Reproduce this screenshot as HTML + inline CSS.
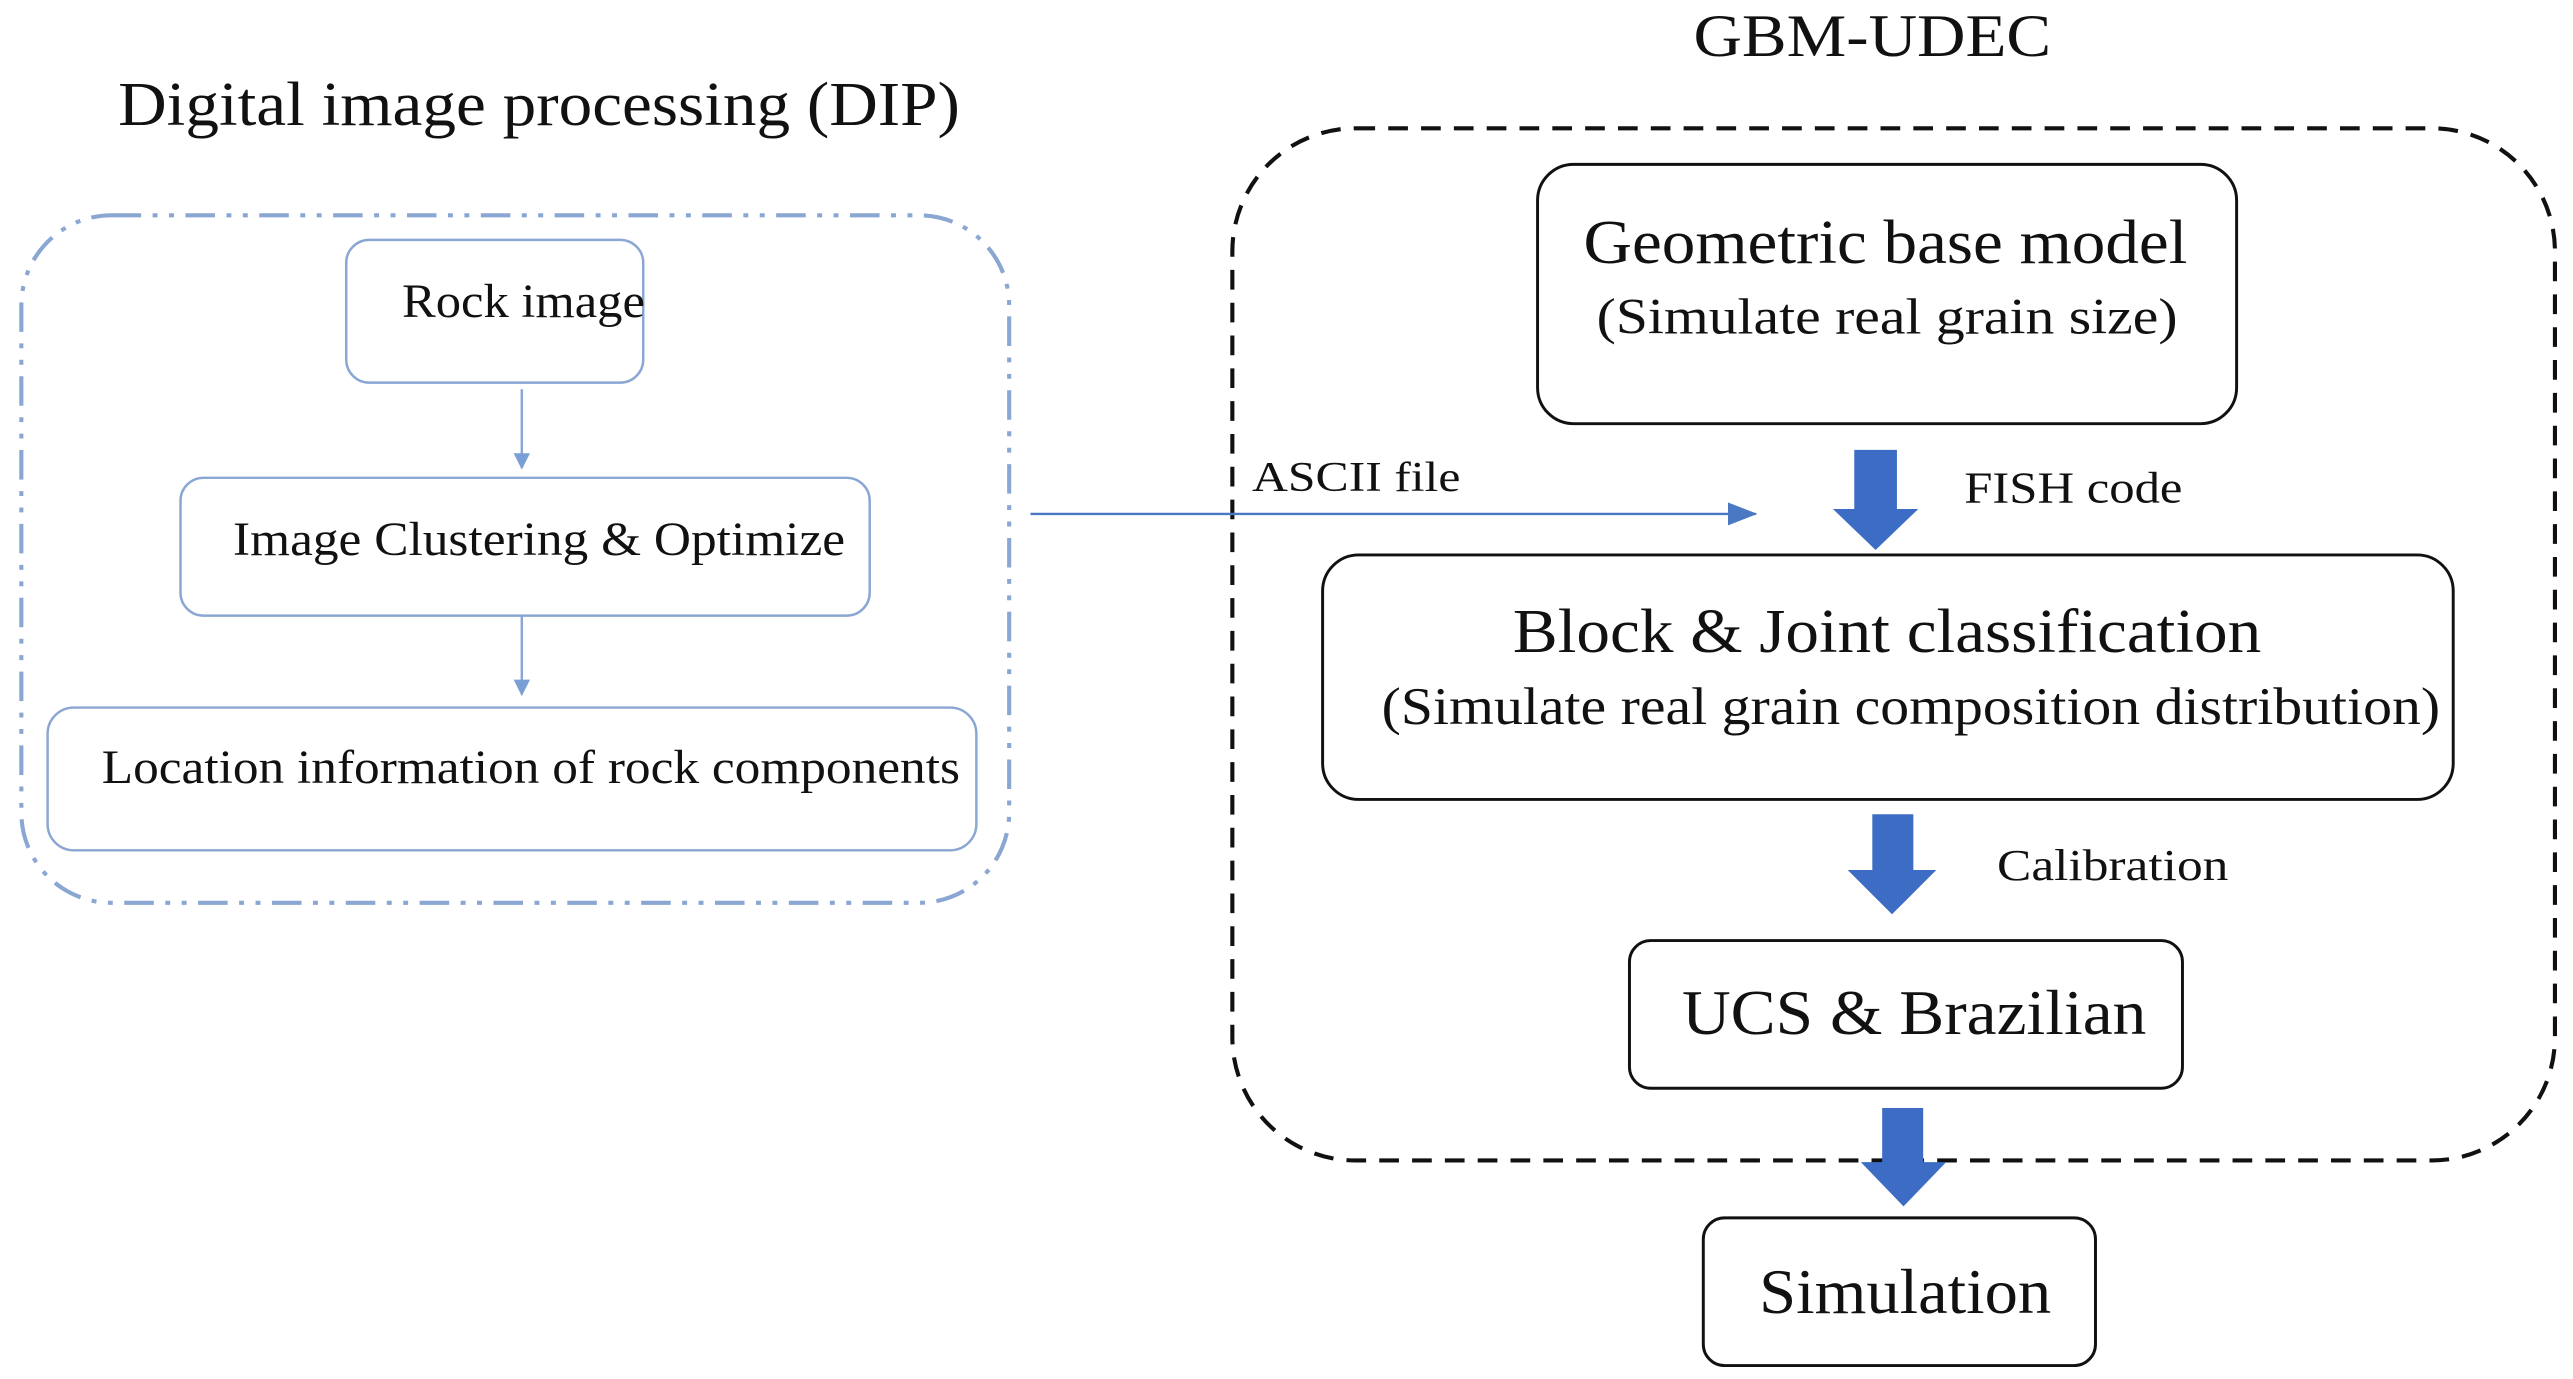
<!DOCTYPE html>
<html><head><meta charset="utf-8"><style>
html,body{margin:0;padding:0;background:#fff}
svg{display:block}
text{font-family:"Liberation Serif",serif;fill:#111}
</style></head><body>
<svg width="2573" height="1379" viewBox="0 0 1568 840" xmlns="http://www.w3.org/2000/svg">
<defs>
<marker id="ah" markerWidth="10" markerHeight="10" refX="9" refY="5" orient="auto" markerUnits="userSpaceOnUse"><path d="M0,0 L10,5 L0,10 Z" fill="#7a9fd6"/></marker>
<marker id="ah2" markerWidth="18" markerHeight="14" refX="17" refY="7" orient="auto" markerUnits="userSpaceOnUse"><path d="M0,0 L18,7 L0,14 Z" fill="#4a78c2"/></marker>
</defs>
<!-- DIP -->
<text x="72" y="76" font-size="38" textLength="513" lengthAdjust="spacingAndGlyphs">Digital image processing (DIP)</text>
<rect x="13" y="131" width="602" height="419" rx="55" fill="none" stroke="#8aa6d2" stroke-width="2.5" stroke-dasharray="18,7,3,7,3,7"/>
<rect x="211" y="146" width="181" height="87" rx="14" fill="#fff" stroke="#8aa6d2" stroke-width="1.5"/>
<text x="245" y="193" font-size="29" textLength="148" lengthAdjust="spacingAndGlyphs">Rock image</text>
<line x1="318" y1="237" x2="318" y2="285" stroke="#8aa6d2" stroke-width="1.5" marker-end="url(#ah)"/>
<rect x="110" y="291" width="420" height="84" rx="14" fill="#fff" stroke="#8aa6d2" stroke-width="1.5"/>
<text x="142" y="338" font-size="29" textLength="373" lengthAdjust="spacingAndGlyphs">Image Clustering &amp; Optimize</text>
<line x1="318" y1="375" x2="318" y2="423" stroke="#8aa6d2" stroke-width="1.5" marker-end="url(#ah)"/>
<rect x="29" y="431" width="566" height="87" rx="16" fill="#fff" stroke="#8aa6d2" stroke-width="1.5"/>
<text x="62" y="477" font-size="29" textLength="523" lengthAdjust="spacingAndGlyphs">Location information of rock components</text>
<!-- GBM-UDEC -->
<text x="1032" y="34" font-size="37" textLength="218" lengthAdjust="spacingAndGlyphs">GBM-UDEC</text>
<rect x="751" y="78" width="806" height="629" rx="75" fill="none" stroke="#111" stroke-width="2.5" stroke-dasharray="12,8"/>
<rect x="937" y="100" width="426" height="158" rx="22" fill="#fff" stroke="#111" stroke-width="1.8"/>
<text x="965" y="160" font-size="38" textLength="368" lengthAdjust="spacingAndGlyphs">Geometric base model</text>
<text x="973" y="203" font-size="31" textLength="354" lengthAdjust="spacingAndGlyphs">(Simulate real grain size)</text>
<line x1="628" y1="313" x2="1070" y2="313" stroke="#4a78c2" stroke-width="1.5" marker-end="url(#ah2)"/>
<text x="763" y="299" font-size="26" textLength="127" lengthAdjust="spacingAndGlyphs">ASCII file</text>
<path d="M1130,274 L1156,274 L1156,310 L1169,310 L1143,335 L1117,310 L1130,310 Z" fill="#3d6cc4"/>
<text x="1197" y="306" font-size="27" textLength="133" lengthAdjust="spacingAndGlyphs">FISH code</text>
<rect x="806" y="338" width="689" height="149" rx="22" fill="#fff" stroke="#111" stroke-width="1.8"/>
<text x="922" y="397" font-size="38" textLength="456" lengthAdjust="spacingAndGlyphs">Block &amp; Joint classification</text>
<text x="842" y="441" font-size="32" textLength="645" lengthAdjust="spacingAndGlyphs">(Simulate real grain composition distribution)</text>
<path d="M1141,496 L1166,496 L1166,530 L1180,530 L1153,557 L1126,530 L1141,530 Z" fill="#3d6cc4"/>
<text x="1217" y="536" font-size="27" textLength="141" lengthAdjust="spacingAndGlyphs">Calibration</text>
<rect x="993" y="573" width="337" height="90" rx="13" fill="#fff" stroke="#111" stroke-width="1.8"/>
<text x="1025" y="630" font-size="39" textLength="283" lengthAdjust="spacingAndGlyphs">UCS &amp; Brazilian</text>
<path d="M1147,675 L1172,675 L1172,708 L1186,708 L1160,735 L1134,708 L1147,708 Z" fill="#3d6cc4"/>
<rect x="1038" y="742" width="239" height="90" rx="13" fill="#fff" stroke="#111" stroke-width="1.8"/>
<text x="1072" y="800" font-size="39" textLength="178" lengthAdjust="spacingAndGlyphs">Simulation</text>
</svg>
</body></html>
